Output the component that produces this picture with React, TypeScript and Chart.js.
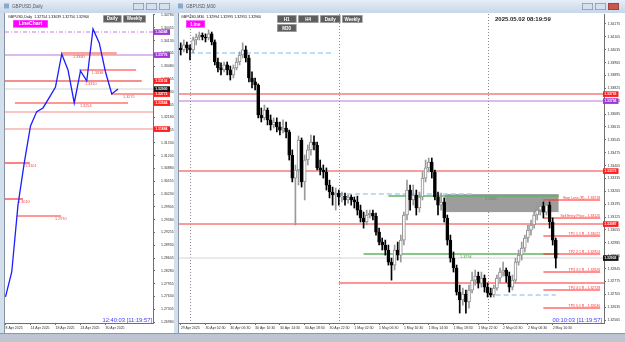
import React, { useEffect, useRef } from "react";
import { Chart, registerables } from "chart.js";

Chart.register(...registerables);

const FAMILY = '"Liberation Sans", Arial, sans-serif';

// ================= Daily window (left) =================
const dailyDates = ["8 Apr", "9 Apr", "10 Apr", "11 Apr", "14 Apr", "15 Apr", "16 Apr", "17 Apr", "18 Apr", "21 Apr", "22 Apr", "23 Apr", "24 Apr", "25 Apr", "28 Apr", "29 Apr", "30 Apr", "1 May", "2 May"];
const dailyClose = [1.27617, 1.28252, 1.29954, 1.31021, 1.31961, 1.32326, 1.32418, 1.32682, 1.32951, 1.33789, 1.33383, 1.32545, 1.33358, 1.33104, 1.34424, 1.34069, 1.33332, 1.32773, 1.329];
const dailyTickAt = [0, 4, 8, 12, 16];
const dailyTickLabels = ["8 Apr 2025", "14 Apr 2025", "18 Apr 2025", "24 Apr 2025", "30 Apr 2025"];
const dailyPriceTicks = [1.3478, 1.34455, 1.3413, 1.33805, 1.3348, 1.33155, 1.3283, 1.32505, 1.3218, 1.31855, 1.3153, 1.31205, 1.3088, 1.30555, 1.3023, 1.29905, 1.2958, 1.29255, 1.2893, 1.28605, 1.2828, 1.27955, 1.2763, 1.27305, 1.2698];
const dailyZonePrices = [1.33802, 1.33383, 1.33103, 1.32773, 1.32544, 1.3102, 1.30105, 1.29673];
const dailyZoneFrom = [8.9, 11.8, -0.1, 16.9, 1.5, -0.1, -0.1, 1.8];
const dailyZoneTo = [17.8, 20.9, 21.8, 26, 19.6, 3.9, 2.8, 8.9];
const dailyZoneLabels = ["1.3380", "1.3338", "1.3310", "1.3275", "1.3254", "1.3101", "1.3010", "1.2970"];
const dailyZoneLabelAt = [10.8, 13.8, 12.7, 18.8, 11.9, 3.1, 2.0, 7.9];
const dailyPurpleDashLevel = 1.34348;
const dailyPurpleLevel = 1.33776;
const dailyPinkLevels = [1.32316, 1.31884];
const dailyRedTags = [1.33103, 1.32773, 1.32544, 1.31884];
const dailyPurpleTags = [1.34348, 1.33776];
const dailyHeader = "GBPUSD,Daily  1.32754 1.33039 1.32750 1.32960";
const dailyClock = "12:40:03 [11:19:57]";

// ================= M30 window (right) =================
const m30Open = [1.34044, 1.34034, 1.34061, 1.34044, 1.34034, 1.34088, 1.34104, 1.34115, 1.34104, 1.34099,
  1.34121, 1.34077, 1.33968, 1.33936, 1.33925, 1.33952, 1.33925, 1.33898, 1.33936, 1.33968,
  1.34006, 1.34034, 1.3399, 1.33881, 1.3386, 1.33843, 1.3368, 1.33664, 1.33707, 1.33653,
  1.33626, 1.33642, 1.33615, 1.33598, 1.33609, 1.33588, 1.33462, 1.33337, 1.33381, 1.33544,
  1.33316, 1.33435, 1.3349, 1.33533, 1.33517, 1.33392, 1.33381, 1.3337, 1.33299, 1.33261,
  1.33245, 1.33256, 1.33234, 1.33239, 1.33218, 1.33234, 1.33218, 1.33207, 1.33163, 1.3312,
  1.33098, 1.33136, 1.33147, 1.3313, 1.33043, 1.32989, 1.32973, 1.32946, 1.3288, 1.32864,
  1.32946, 1.32918, 1.33, 1.33136, 1.33272, 1.33218, 1.33245, 1.33174, 1.33234, 1.33337,
  1.33392, 1.33424, 1.3337, 1.33234, 1.3319, 1.33207, 1.3312, 1.33, 1.32902, 1.32848,
  1.32717, 1.32674, 1.32706, 1.32663, 1.32728, 1.32782, 1.32804, 1.32766, 1.32793, 1.32744,
  1.32712, 1.32701, 1.32739, 1.32793, 1.32826, 1.32837, 1.32804, 1.32744, 1.32782, 1.3288,
  1.32918, 1.32956, 1.33011, 1.33054, 1.33082, 1.33136, 1.33163, 1.33185, 1.33152, 1.3319,
  1.33098, 1.33];
const m30High = [1.34072, 1.34088, 1.34077, 1.34061, 1.34104, 1.34121, 1.34131, 1.34126, 1.34121, 1.34142,
  1.34131, 1.34088, 1.3399, 1.33963, 1.33968, 1.33968, 1.33946, 1.33952, 1.3399, 1.34023,
  1.34072, 1.34055, 1.34006, 1.33914, 1.33881, 1.33849, 1.33718, 1.33734, 1.33718, 1.3368,
  1.33664, 1.33664, 1.33642, 1.33653, 1.33642, 1.33598, 1.3349, 1.33408, 1.33566, 1.33555,
  1.33462, 1.33517, 1.33571, 1.33566, 1.33533, 1.33435, 1.33408, 1.33392, 1.33326, 1.33288,
  1.33283, 1.33272, 1.33261, 1.33256, 1.33245, 1.33245, 1.33234, 1.33239, 1.3319, 1.33152,
  1.33163, 1.33163, 1.33163, 1.33147, 1.33065, 1.33011, 1.33, 1.32973, 1.32902, 1.32973,
  1.32989, 1.33027, 1.33152, 1.33326, 1.33299, 1.33299, 1.33272, 1.33261, 1.3337, 1.33435,
  1.33446, 1.33446, 1.33381, 1.33261, 1.33256, 1.33229, 1.33136, 1.33027, 1.32935, 1.32864,
  1.32755, 1.32739, 1.32728, 1.32755, 1.32826, 1.32837, 1.32826, 1.32826, 1.3281, 1.32766,
  1.32739, 1.32755, 1.3281, 1.32848, 1.3288, 1.32848, 1.32826, 1.3281, 1.32902, 1.32946,
  1.32989, 1.33027, 1.33082, 1.33109, 1.33163, 1.33201, 1.33218, 1.33207, 1.33218, 1.33207,
  1.3312, 1.33011];
const m30Low = [1.34006, 1.34023, 1.34017, 1.33979, 1.34017, 1.34061, 1.34088, 1.34088, 1.34077, 1.34088,
  1.34061, 1.33952, 1.33914, 1.33898, 1.33914, 1.33898, 1.3387, 1.33881, 1.33925, 1.33952,
  1.3399, 1.33968, 1.3386, 1.33827, 1.33816, 1.33664, 1.33642, 1.33653, 1.33626, 1.33598,
  1.33609, 1.33588, 1.33571, 1.33582, 1.33555, 1.33435, 1.33316, 1.33082, 1.33299, 1.33288,
  1.33218, 1.33408, 1.33462, 1.3349, 1.33381, 1.33354, 1.33337, 1.33272, 1.33229, 1.3319,
  1.33163, 1.3319, 1.33207, 1.3319, 1.33201, 1.3319, 1.33174, 1.33136, 1.33098, 1.33065,
  1.33082, 1.3312, 1.33109, 1.33027, 1.32973, 1.32946, 1.32918, 1.32864, 1.32782, 1.32837,
  1.32891, 1.3288, 1.32973, 1.33109, 1.33163, 1.3319, 1.33136, 1.33152, 1.33218, 1.33316,
  1.3337, 1.33337, 1.33218, 1.33136, 1.33163, 1.33098, 1.32973, 1.3288, 1.32826, 1.32701,
  1.32603, 1.32646, 1.32603, 1.3263, 1.32712, 1.32755, 1.32739, 1.32744, 1.32717, 1.3269,
  1.3269, 1.3269, 1.32728, 1.32771, 1.32804, 1.32771, 1.32717, 1.32728, 1.32766, 1.32864,
  1.32891, 1.32935, 1.32989, 1.33027, 1.33065, 1.33109, 1.33136, 1.3312, 1.33136, 1.33065,
  1.32973, 1.32848];
const m30Close = [1.34034, 1.34061, 1.34044, 1.34034, 1.34088, 1.34104, 1.34115, 1.34104, 1.34099, 1.34121,
  1.34077, 1.33968, 1.33936, 1.33925, 1.33952, 1.33925, 1.33898, 1.33936, 1.33968, 1.34006,
  1.34034, 1.3399, 1.33881, 1.3386, 1.33843, 1.3368, 1.33664, 1.33707, 1.33653, 1.33626,
  1.33642, 1.33615, 1.33598, 1.33609, 1.33588, 1.33462, 1.33337, 1.33381, 1.33544, 1.33316,
  1.33435, 1.3349, 1.33533, 1.33517, 1.33392, 1.33381, 1.3337, 1.33299, 1.33261, 1.33245,
  1.33256, 1.33234, 1.33239, 1.33218, 1.33234, 1.33218, 1.33207, 1.33163, 1.3312, 1.33098,
  1.33136, 1.33147, 1.3313, 1.33043, 1.32989, 1.32973, 1.32946, 1.3288, 1.32864, 1.32946,
  1.32918, 1.33, 1.33136, 1.33272, 1.33218, 1.33245, 1.33174, 1.33234, 1.33337, 1.33392,
  1.33424, 1.3337, 1.33234, 1.3319, 1.33207, 1.3312, 1.33, 1.32902, 1.32848, 1.32717,
  1.32674, 1.32706, 1.32663, 1.32728, 1.32782, 1.32804, 1.32766, 1.32793, 1.32744, 1.32712,
  1.32701, 1.32739, 1.32793, 1.32826, 1.32837, 1.32804, 1.32744, 1.32782, 1.3288, 1.32918,
  1.32956, 1.33011, 1.33054, 1.33082, 1.33136, 1.33163, 1.33185, 1.33152, 1.3319, 1.33098,
  1.33, 1.32902];
const m30TickAt = [0, 8, 16, 24, 32, 40, 48, 56, 64, 72, 80, 88, 96, 104, 112, 120];
const m30TickLabels = ["29 Apr 2025", "30 Apr 02:30", "30 Apr 06:30", "30 Apr 10:30", "30 Apr 14:30", "30 Apr 18:30", "30 Apr 22:30", "1 May 02:30", "1 May 06:30", "1 May 10:30", "1 May 14:30", "1 May 18:30", "1 May 22:30", "2 May 02:30", "2 May 06:30", "2 May 10:30"];
const m30PriceTicks = [1.34175, 1.34105, 1.34035, 1.33965, 1.33895, 1.33825, 1.33755, 1.33685, 1.33615, 1.33545, 1.33475, 1.33405, 1.33335, 1.33265, 1.33195, 1.33125, 1.33055, 1.32985, 1.32915, 1.32845, 1.32775, 1.32705, 1.32635, 1.32565];
const m30DaySeparators = [3, 51, 99];
const m30ZoneLevels = [1.33793, 1.33375, 1.33087];
const m30PurpleLevel = 1.33756;
const m30SupportLevel = 1.32766;
const m30SupportFrom = 51;
const m30DashedPrices = [1.34019, 1.3325, 1.32701];
const m30DashedFrom = [3, 51, 99];
const m30DashedTo = [49, 95, 121];
const m30GreenPrices = [1.33239, 1.32924];
const m30GreenFrom = [67, 59];
const m30GreenTo = [122, 122];
const m30GreenLabels = ["1.3325", "1.3294"];
const m30GreenLabelAt = [98.2, 90.1];
const m30BoxBars = [85.3, 121.9];
const m30BoxPrices = [1.3325, 1.33152];
const m30TradePrices = [1.33218, 1.3312, 1.33022, 1.32924, 1.32826, 1.32728, 1.3263];
const m30TradeLabels = ["Stop Loss (R) - 1.33218", "Sell Entry Price - 1.33120", "TP1 1:1 R - 1.33022", "TP2 2:1 R - 1.32924", "TP3 3:1 R - 1.32826", "TP4 4:1 R - 1.32728", "TP5 5:1 R - 1.32630"];
const m30TradeFrom = 117;
const m30TradeTo = 135.3;
const m30TrendBars = [118.5, 121.8];
const m30TrendPrices = [1.33163, 1.33245];
const m30RedTags = [1.33793, 1.33375, 1.33087];
const m30PurpleTags = [1.33756];
const m30Header = "GBPUSD,M30  1.32994 1.32995 1.32955 1.32960";
const m30ServerTime = "2025.05.02 08:19:59";
const m30Clock = "00:10:03 [11:19:57]";

// ================= drawing helpers =================
const fnt = (size: number, bold = false) => `${bold ? "bold " : ""}${size}px ${FAMILY}`;

function chrome(chart: any, title: string, btnX: number[], red: boolean) {
  const { ctx, width, height } = chart;
  ctx.save();
  ctx.fillStyle = "#d4dfec";
  ctx.fillRect(0, 0, width, height);
  const g = ctx.createLinearGradient(0, 0, 0, 13);
  g.addColorStop(0, "#e6eef8");
  g.addColorStop(1, "#c7d6e9");
  ctx.fillStyle = g;
  ctx.fillRect(0, 0, width, 13);
  ctx.fillStyle = "#8ba7c9";
  ctx.fillRect(4, 3.5, 5, 5);
  ctx.fillStyle = "#5b5b5b";
  ctx.font = fnt(4.6);
  ctx.textAlign = "left";
  ctx.textBaseline = "middle";
  ctx.fillText(title, 12, 7);
  btnX.forEach((bx, i) => {
    const isClose = red && i === btnX.length - 1;
    ctx.fillStyle = isClose ? "#c9564a" : "#d5e0ee";
    ctx.fillRect(bx, 3, 11, 7);
    ctx.strokeStyle = isClose ? "#9a3a30" : "#7f90a8";
    ctx.lineWidth = 0.7;
    ctx.strokeRect(bx + 0.35, 3.35, 10.3, 6.3);
  });
  ctx.fillStyle = "#ffffff";
  ctx.fillRect(4, 13, width - 4, height - 13);
  ctx.strokeStyle = "#8593a6";
  ctx.lineWidth = 1;
  ctx.beginPath();
  ctx.moveTo(4.5, 13);
  ctx.lineTo(4.5, height);
  ctx.stroke();
  ctx.restore();
}

function hseg(chart: any, price: number, from: number, to: number, color: string, width: number, dash: number[] = []) {
  const { ctx, chartArea: a, scales } = chart;
  const raw = scales.y.getPixelForValue(price);
  const py = width % 2 === 1 ? Math.round(raw) + 0.5 : Math.round(raw);
  const x1 = Math.max(a.left, scales.x.getPixelForValue(from));
  const x2 = Math.min(a.right, scales.x.getPixelForValue(to));
  ctx.save();
  ctx.strokeStyle = color;
  ctx.lineWidth = width;
  ctx.setLineDash(dash);
  ctx.beginPath();
  ctx.moveTo(x1, py);
  ctx.lineTo(x2, py);
  ctx.stroke();
  ctx.restore();
}

function text(chart: any, str: string, at: number, price: number, color: string, size: number, align: string, dy: number, bold = false) {
  const { ctx, scales } = chart;
  ctx.save();
  ctx.fillStyle = color;
  ctx.font = fnt(size, bold);
  ctx.textAlign = align;
  ctx.textBaseline = "middle";
  ctx.fillText(str, scales.x.getPixelForValue(at), scales.y.getPixelForValue(price) + dy);
  ctx.restore();
}

function tag(chart: any, price: number, bg: string, bx: number, bw: number) {
  const { ctx, scales } = chart;
  const py = Math.round(scales.y.getPixelForValue(price));
  ctx.save();
  ctx.fillStyle = bg;
  ctx.fillRect(bx, py - 2.7, bw, 5.6);
  ctx.fillStyle = "#ffffff";
  ctx.font = fnt(3.4, true);
  ctx.textAlign = "left";
  ctx.textBaseline = "middle";
  ctx.fillText(price.toFixed(5), bx + 1.2, py + 0.2);
  ctx.restore();
}

function button(ctx: any, x: number, y: number, w: number, h: number, label: string, bg: string, size: number) {
  ctx.save();
  ctx.fillStyle = bg;
  ctx.fillRect(x, y, w, h);
  ctx.strokeStyle = bg === "#ff00ff" ? "#ff66ff" : "#c4c4c4";
  ctx.lineWidth = 0.6;
  ctx.strokeRect(x + 0.3, y + 0.3, w - 0.6, h - 0.6);
  ctx.fillStyle = "#ffffff";
  ctx.font = fnt(size, true);
  ctx.textAlign = "center";
  ctx.textBaseline = "middle";
  ctx.fillText(label, x + w / 2, y + h / 2 + 0.3);
  ctx.restore();
}

function clipArea(chart: any) {
  const { ctx, chartArea: a } = chart;
  ctx.save();
  ctx.beginPath();
  ctx.rect(a.left, a.top, a.right - a.left, a.bottom - a.top);
  ctx.clip();
}

const axisGrid = { display: true, drawOnChartArea: false, drawTicks: true, tickLength: 2, color: "#6f6f6f", offset: false };
const axisBorder = { display: true, color: "#6f6f6f", width: 1 };
const tickFont = { family: FAMILY, size: 3.5 };

// ================= plugins =================
const dailyPlugin = {
  id: "dailyOverlay",
  beforeDraw(chart: any) {
    chrome(chart, "GBPUSD,Daily", [133, 146, 159], false);
  },
  beforeDatasetsDraw(chart: any) {
    clipArea(chart);
    hseg(chart, dailyPurpleDashLevel, -1, 30, "#c77ae6", 1.2, [4, 2, 1, 2]);
    hseg(chart, dailyPurpleLevel, -1, 30, "#b57be0", 1.2);
    dailyPinkLevels.forEach((p) => hseg(chart, p, -1, 30, "#f6b0b0", 1.5));
    hseg(chart, dailyClose[dailyClose.length - 1], -1, 30, "#d4d4d4", 1.2);
    dailyZonePrices.forEach((p, i) => {
      if (i === 0) hseg(chart, p, dailyZoneFrom[i], dailyZoneTo[i], "#f5a3a3", 3);
      else if (i === 2) hseg(chart, p, dailyZoneFrom[i], dailyZoneTo[i], "#f06a6a", 1.5);
      else hseg(chart, p, dailyZoneFrom[i], dailyZoneTo[i], "#ff3030", 1.2);
    });
    chart.ctx.restore();
  },
  afterDraw(chart: any) {
    const { ctx, chartArea: a } = chart;
    dailyZonePrices.forEach((p, i) => text(chart, dailyZoneLabels[i], dailyZoneLabelAt[i], p, "#f04848", 3.8, "left", 3));
    dailyPurpleTags.forEach((p) => tag(chart, p, "#9c36d2", a.right + 1, 16));
    dailyRedTags.forEach((p) => tag(chart, p, "#ff1c1c", a.right + 1, 16));
    tag(chart, dailyClose[dailyClose.length - 1], "#141414", a.right + 1, 16);
    ctx.save();
    ctx.fillStyle = "#111";
    ctx.font = fnt(3.6);
    ctx.textAlign = "left";
    ctx.textBaseline = "middle";
    ctx.fillText(dailyHeader, 8, 16.5);
    ctx.fillStyle = "#3b3bff";
    ctx.font = fnt(5.8);
    ctx.textAlign = "right";
    ctx.fillText(dailyClock, 152, 320);
    ctx.restore();
    button(ctx, 13, 20, 35, 7.5, "LineChart", "#ff00ff", 5);
    button(ctx, 103, 15, 18.5, 7.5, "Daily", "#5e5e5e", 4.5);
    button(ctx, 123, 15, 23, 7.5, "Weekly", "#5e5e5e", 4.5);
  },
};

const OX = 174; // page offset of the right canvas
const m30Plugin = {
  id: "m30Overlay",
  beforeDraw(chart: any) {
    chrome(chart, "GBPUSD,M30", [582 - OX, 595 - OX, 608 - OX], true);
  },
  beforeDatasetsDraw(chart: any) {
    const { ctx, chartArea: a, scales } = chart;
    clipArea(chart);
    ctx.save();
    ctx.strokeStyle = "#8a8a8a";
    ctx.lineWidth = 1;
    ctx.setLineDash([1, 2]);
    m30DaySeparators.forEach((b) => {
      const px = Math.round(scales.x.getPixelForValue(b)) + 0.5;
      ctx.beginPath();
      ctx.moveTo(px, a.top);
      ctx.lineTo(px, a.bottom);
      ctx.stroke();
    });
    ctx.restore();
    const bx1 = scales.x.getPixelForValue(m30BoxBars[0]);
    const bx2 = scales.x.getPixelForValue(m30BoxBars[1]);
    const by1 = scales.y.getPixelForValue(m30BoxPrices[0]);
    const by2 = scales.y.getPixelForValue(m30BoxPrices[1]);
    ctx.fillStyle = "#9d9d9d";
    ctx.fillRect(bx1, by1, bx2 - bx1, by2 - by1);
    m30ZoneLevels.forEach((p) => hseg(chart, p, -1, 140, "#f47c7c", 1.5));
    hseg(chart, m30PurpleLevel, -1, 140, "#b57be0", 1.2);
    hseg(chart, m30SupportLevel, m30SupportFrom, 140, "#ff2a2a", 1.2);
    hseg(chart, m30Close[m30Close.length - 1], -1, 140, "#d6d6d6", 1.2);
    m30DashedPrices.forEach((p, i) => hseg(chart, p, m30DashedFrom[i], m30DashedTo[i], "#a9cff2", 1.5, [5, 3]));
    m30GreenPrices.forEach((p, i) => hseg(chart, p, m30GreenFrom[i], m30GreenTo[i], "#62b562", 1.5));
    m30TradePrices.forEach((p) => hseg(chart, p, m30TradeFrom, m30TradeTo, "#ff2424", 1.2));
    ctx.save();
    ctx.strokeStyle = "#ff7a3a";
    ctx.lineWidth = 1;
    ctx.setLineDash([1, 1]);
    ctx.beginPath();
    ctx.moveTo(scales.x.getPixelForValue(m30TrendBars[0]), scales.y.getPixelForValue(m30TrendPrices[0]));
    ctx.lineTo(scales.x.getPixelForValue(m30TrendBars[1]), scales.y.getPixelForValue(m30TrendPrices[1]));
    ctx.stroke();
    ctx.restore();
    ctx.restore();
  },
  afterDraw(chart: any) {
    const { ctx, chartArea: a } = chart;
    m30GreenPrices.forEach((p, i) => text(chart, m30GreenLabels[i], m30GreenLabelAt[i], p, "#4e934e", 3.8, "left", 3));
    m30TradePrices.forEach((p, i) => text(chart, m30TradeLabels[i], m30TradeTo, p, "#ff3030", 3.5, "right", -1.8));
    m30RedTags.forEach((p) => tag(chart, p, "#ff1c1c", a.right - 1, 15.5));
    m30PurpleTags.forEach((p) => tag(chart, p, "#9c36d2", a.right - 1, 15.5));
    tag(chart, m30Close[m30Close.length - 1], "#141414", a.right - 1, 15.5);
    ctx.save();
    ctx.fillStyle = "#111";
    ctx.font = fnt(3.6);
    ctx.textAlign = "left";
    ctx.textBaseline = "middle";
    ctx.fillText(m30Header, 181 - OX, 16.5);
    ctx.font = fnt(6, true);
    ctx.fillStyle = "#222";
    ctx.fillText(m30ServerTime, 495 - OX, 19);
    ctx.fillStyle = "#3b3bff";
    ctx.font = fnt(5.8);
    ctx.textAlign = "right";
    ctx.fillText(m30Clock, 602 - OX, 320);
    ctx.restore();
    button(ctx, 186 - OX, 20.5, 19, 7, "Line", "#ff00ff", 4.8);
    button(ctx, 277 - OX, 15, 19.5, 8, "H1", "#5e5e5e", 4.5);
    button(ctx, 298 - OX, 15, 20.5, 8, "H4", "#5e5e5e", 4.5);
    button(ctx, 320 - OX, 15, 20.5, 8, "Daily", "#5e5e5e", 4.5);
    button(ctx, 342 - OX, 15, 20.5, 8, "Weekly", "#5e5e5e", 4.5);
    button(ctx, 277 - OX, 24, 19.5, 8, "M30", "#5e5e5e", 4.5);
  },
};

function dailyConfig(): any {
  return {
    type: "line",
    data: {
      labels: dailyDates,
      datasets: [
        {
          data: dailyClose.map((c, i) => ({ x: i, y: c })),
          borderColor: "#1d1dff",
          borderWidth: 1.3,
          pointRadius: 0,
          tension: 0,
        },
      ],
    },
    options: {
      responsive: false,
      animation: false,
      events: [],
      layout: { padding: { left: 5, top: 14, right: 0, bottom: 0 } },
      plugins: { legend: { display: false }, tooltip: { enabled: false } },
      scales: {
        x: {
          type: "linear",
          min: -0.08,
          max: 23.6,
          offset: false,
          grid: axisGrid,
          border: axisBorder,
          ticks: {
            autoSkip: false,
            maxRotation: 0,
            minRotation: 0,
            align: "start",
            padding: 1,
            color: "#333",
            font: tickFont,
            callback: (_v: any, i: number) => dailyTickLabels[i] ?? "",
          },
          afterBuildTicks: (s: any) => {
            s.ticks = dailyTickAt.map((v) => ({ value: v }));
          },
          afterFit: (s: any) => {
            s.height = 10;
          },
        },
        y: {
          type: "linear",
          position: "right",
          min: 1.26955,
          max: 1.34805,
          grid: axisGrid,
          border: axisBorder,
          ticks: {
            autoSkip: false,
            padding: 6,
            color: "#333",
            font: tickFont,
            callback: (v: any) => Number(v).toFixed(5),
          },
          afterBuildTicks: (s: any) => {
            s.ticks = dailyPriceTicks.map((v) => ({ value: v }));
          },
          afterFit: (s: any) => {
            s.width = 21;
          },
        },
      },
    },
    plugins: [dailyPlugin],
  };
}

function m30Config(): any {
  const bull = m30Close.map((c, i) => c >= m30Open[i]);
  return {
    type: "bar",
    data: {
      datasets: [
        {
          data: m30Close.map((c, i) => ({ x: i, y: [m30Open[i], c] })),
          backgroundColor: bull.map((b) => (b ? "#ffffff" : "#000000")),
          borderColor: bull.map((b) => (b ? "#8c8c8c" : "#000000")),
          borderWidth: 1,
          borderSkipped: false,
          barThickness: 3,
          grouped: false,
          order: 0,
        },
        {
          data: m30Close.map((_c, i) => ({ x: i, y: [m30Low[i], m30High[i]] })),
          backgroundColor: bull.map((b) => (b ? "#9a9a9a" : "#000000")),
          borderWidth: 0,
          barThickness: 1,
          grouped: false,
          order: 1,
        },
      ],
    },
    options: {
      responsive: false,
      animation: false,
      events: [],
      layout: { padding: { left: 5, top: 14, right: 0, bottom: 0 } },
      plugins: { legend: { display: false }, tooltip: { enabled: false } },
      scales: {
        x: {
          type: "linear",
          min: -0.55,
          max: 136.55,
          offset: false,
          grid: axisGrid,
          border: axisBorder,
          ticks: {
            autoSkip: false,
            maxRotation: 0,
            minRotation: 0,
            align: "start",
            padding: 1,
            color: "#333",
            font: tickFont,
            callback: (_v: any, i: number) => m30TickLabels[i] ?? "",
          },
          afterBuildTicks: (s: any) => {
            s.ticks = m30TickAt.map((v) => ({ value: v }));
          },
          afterFit: (s: any) => {
            s.height = 10;
          },
        },
        y: {
          type: "linear",
          position: "right",
          min: 1.32549,
          max: 1.34229,
          grid: axisGrid,
          border: axisBorder,
          ticks: {
            autoSkip: false,
            padding: 1.5,
            color: "#333",
            font: tickFont,
            callback: (v: any) => Number(v).toFixed(5),
          },
          afterBuildTicks: (s: any) => {
            s.ticks = m30PriceTicks.map((v) => ({ value: v }));
          },
          afterFit: (s: any) => {
            s.width = 21;
          },
        },
      },
    },
    plugins: [m30Plugin],
  };
}

export default function App() {
  const leftRef = useRef<HTMLCanvasElement>(null);
  const rightRef = useRef<HTMLCanvasElement>(null);

  useEffect(() => {
    document.body.style.margin = "0";
    const left = new Chart(leftRef.current as HTMLCanvasElement, dailyConfig());
    const right = new Chart(rightRef.current as HTMLCanvasElement, m30Config());
    return () => {
      left.destroy();
      right.destroy();
    };
  }, []);

  return (
    <div style={{ position: "fixed", left: 0, top: 0, width: 625, height: 342, background: "#c3ccd8", overflow: "hidden" }}>
      <canvas ref={leftRef} width={174} height={333} style={{ position: "absolute", left: 0, top: 0, width: 174, height: 333, display: "block" }} />
      <canvas ref={rightRef} width={451} height={333} style={{ position: "absolute", left: 174, top: 0, width: 451, height: 333, display: "block" }} />
      <div style={{ position: "absolute", left: 0, top: 333, width: 625, height: 9, background: "#bcc5d1", borderTop: "1px solid #8d99aa", boxSizing: "border-box" }} />
    </div>
  );
}
